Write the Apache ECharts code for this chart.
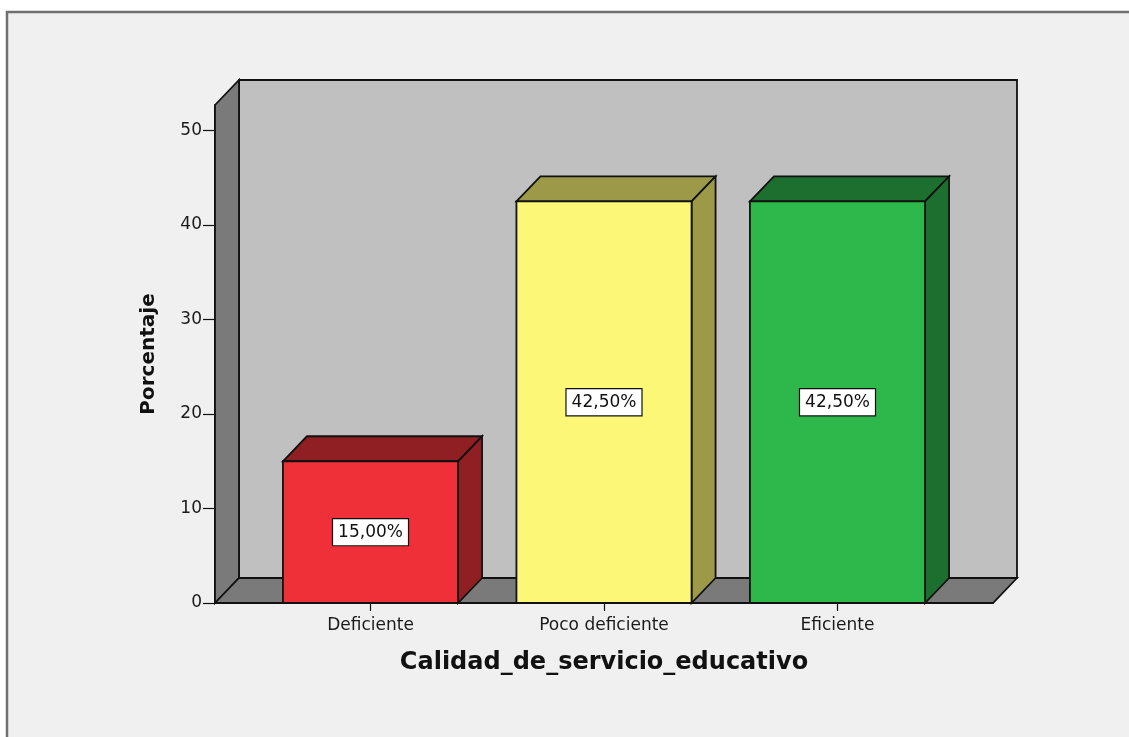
<!DOCTYPE html>
<html>
<head>
<meta charset="utf-8">
<script src="https://cdn.jsdelivr.net/npm/echarts@6/dist/echarts.min.js"></script>
<style>
  html, body { margin: 0; padding: 0; background: #ffffff; }
  #chart { width: 1129px; height: 737px; }
</style>
</head>
<body>
<div id="chart"></div>
<script>
// ---- data ----
const categories = ['Deficiente', 'Poco deficiente', 'Eficiente'];
const percentages = [15.0, 42.5, 42.5];
const yTicks = [0, 10, 20, 30, 40, 50];
const xTitle = 'Calidad_de_servicio_educativo';
const yTitle = 'Porcentaje';

// ---- styles / layout ----
const frontColors = ['#EF3038', '#FCF777', '#2EB84B'];
const darkColors = ['#8F1F22', '#9C9A48', '#1D6F2F'];
const Y_MAX = 52.7;
const WALL_PAD = 38.75;
const DX = 24, DY = 25;
const BAR_RATIO = 0.75;
const EDGE = '#111111';
const FONT = '"DejaVu Sans", Verdana, sans-serif';

function fmt(v) { return v.toFixed(2).replace('.', ',') + '%'; }

function renderWalls(params, api) {
  const cs = params.coordSys;
  const L = cs.x - WALL_PAD, R = cs.x + cs.width + WALL_PAD;
  const yTop = api.coord([0, Y_MAX])[1];
  const y0 = api.coord([0, 0])[1];
  const st = { stroke: EDGE, lineWidth: 1.8, lineJoin: 'miter' };
  return {
    type: 'group',
    children: [
      { type: 'polygon', shape: { points: [[L + DX, yTop - DY], [R + DX, yTop - DY], [R + DX, y0 - DY], [L + DX, y0 - DY]] },
        style: Object.assign({ fill: '#C0C0C0' }, st) },
      { type: 'polygon', shape: { points: [[L, yTop], [L + DX, yTop - DY], [L + DX, y0 - DY], [L, y0]] },
        style: Object.assign({ fill: '#7A7A7A' }, st) },
      { type: 'polygon', shape: { points: [[L, y0], [L + DX, y0 - DY], [R + DX, y0 - DY], [R, y0]] },
        style: Object.assign({ fill: '#7A7A7A' }, st) }
    ]
  };
}

function renderBar(params, api) {
  const idx = api.value(0), v = api.value(1);
  const top = api.coord([idx, v]);
  const base = api.coord([idx, 0]);
  const band = api.size([1, 0])[0];
  const w = band * BAR_RATIO;
  const xl = top[0] - w / 2, xr = top[0] + w / 2;
  const yv = top[1], y0 = base[1];
  const st = { stroke: EDGE, lineWidth: 1.8, lineJoin: 'miter' };
  const mid = api.coord([idx, v / 2]);
  return {
    type: 'group',
    children: [
      { type: 'polygon', shape: { points: [[xl, yv], [xl + DX, yv - DY], [xr + DX, yv - DY], [xr, yv]] },
        style: Object.assign({ fill: darkColors[params.dataIndex] }, st) },
      { type: 'polygon', shape: { points: [[xr, yv], [xr + DX, yv - DY], [xr + DX, y0 - DY], [xr, y0]] },
        style: Object.assign({ fill: darkColors[params.dataIndex] }, st) },
      { type: 'rect', shape: { x: xl, y: yv, width: w, height: y0 - yv },
        style: Object.assign({ fill: frontColors[params.dataIndex] }, st) },
      { type: 'text', x: mid[0], y: mid[1],
        style: { text: fmt(v), align: 'center', verticalAlign: 'middle',
          font: '17px ' + FONT, fill: '#111',
          backgroundColor: '#ffffff', borderColor: '#111', borderWidth: 1.2,
          padding: [5, 5, 4, 5] } }
    ]
  };
}

const chart = echarts.init(document.getElementById('chart'), null, { renderer: 'canvas' });
chart.setOption({
  backgroundColor: '#ffffff',
  animation: false,
  graphic: [{
    type: 'rect', z: -100, silent: true,
    shape: { x: 7, y: 12, width: 1200, height: 800 },
    style: { fill: '#F0F0F0', stroke: '#707070', lineWidth: 2.5 }
  }],
  grid: { left: 253.75, right: 174.75, top: 105, bottom: 134, containLabel: false },
  xAxis: {
    type: 'category',
    data: categories,
    axisLine: { show: false },
    axisTick: { show: true, alignWithLabel: true, length: 8, lineStyle: { color: '#111', width: 1.2 } },
    axisLabel: { margin: 14, fontSize: 17, fontFamily: FONT, color: '#1a1a1a' },
    splitLine: { show: false },
    name: xTitle,
    nameLocation: 'middle',
    nameGap: 48,
    nameTextStyle: { fontSize: 24, fontWeight: 'bold', fontFamily: FONT, color: '#111' }
  },
  yAxis: {
    type: 'value',
    min: 0, max: Y_MAX, interval: 10,
    offset: WALL_PAD,
    axisLine: { show: true, lineStyle: { color: '#111', width: 1.8 } },
    axisTick: { show: true, length: 12, customValues: yTicks, lineStyle: { color: '#111', width: 1.2 } },
    axisLabel: { margin: 13, fontSize: 17, fontFamily: FONT, color: '#1a1a1a', customValues: yTicks },
    splitLine: { show: false },
    name: yTitle,
    nameLocation: 'middle',
    nameRotate: 90,
    nameGap: 56,
    nameTextStyle: { fontSize: 20, fontWeight: 'bold', fontFamily: FONT, color: '#111' }
  },
  series: [
    { type: 'custom', name: 'walls', z: 1, clip: false, silent: true,
      renderItem: renderWalls, data: [[0, 0]] },
    { type: 'custom', name: 'bars', z: 3, clip: false,
      renderItem: renderBar,
      data: percentages.map((v, i) => [i, v]) }
  ]
});
</script>
</body>
</html>
